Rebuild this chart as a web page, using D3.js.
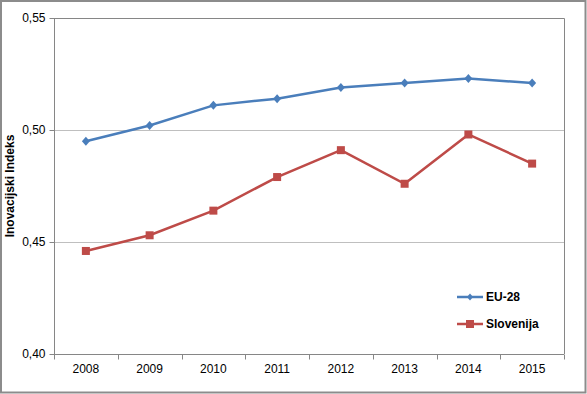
<!DOCTYPE html>
<html>
<head>
<meta charset="utf-8">
<script src="https://cdn.jsdelivr.net/npm/d3@7"></script>
<style>
  body { margin: 0; background: #fff; }
  svg { display: block; font-family: "Liberation Sans", Arial, sans-serif; }
</style>
</head>
<body>
<div id="chart"></div>
<script>

var years = ["2008", "2009", "2010", "2011", "2012", "2013", "2014", "2015"];
var euValues = [0.495, 0.502, 0.511, 0.514, 0.519, 0.521, 0.523, 0.521];
var sloValues = [0.446, 0.453, 0.464, 0.479, 0.491, 0.476, 0.498, 0.485];
var yTicks = [0.40, 0.45, 0.50, 0.55];
var seriesNames = ["EU-28", "Slovenija"];

var W = 587, H = 394;
var margin = { top: 18, right: 23, bottom: 40, left: 54 };
var width = W - margin.left - margin.right;
var height = H - margin.top - margin.bottom;

var svg = d3.select("#chart").append("svg")
    .attr("width", W)
    .attr("height", H);

// outer frame
svg.append("rect")
    .attr("x", 1).attr("y", 1)
    .attr("width", W - 2.5).attr("height", H - 2.5)
    .attr("fill", "#fff")
    .attr("stroke", "#8c8c8c")
    .attr("stroke-width", 2);

var g = svg.append("g").attr("transform", "translate(" + margin.left + "," + margin.top + ")");

var x = d3.scaleBand().domain(years).range([0, width]);
var y = d3.scaleLinear().domain([0.40, 0.55]).range([height, 0]);

// gridlines
g.selectAll(".grid")
    .data(yTicks.slice(1, 3))
    .enter().append("line")
    .attr("class", "grid")
    .attr("x1", 0).attr("x2", width)
    .attr("y1", function (d) { return Math.round(y(d)) + 0.5; })
    .attr("y2", function (d) { return Math.round(y(d)) + 0.5; })
    .attr("stroke", "#bfbfbf");

// plot border top and right
g.append("path")
    .attr("d", "M0,0.5H" + (width + 0.5) + "V" + height)
    .attr("fill", "none")
    .attr("stroke", "#868686");

// y axis
var yAxis = d3.axisLeft(y)
    .tickValues(yTicks)
    .tickSize(5)
    .tickPadding(4)
    .tickFormat(function (d) { return d3.format(".2f")(d).replace(".", ","); });

var ya = g.append("g").attr("class", "axis yAxis").attr("transform", "translate(0.5,0)").call(yAxis);
ya.select(".domain").attr("stroke", "#868686").attr("d", "M0," + height + "V0");
ya.selectAll(".tick line").attr("stroke", "#868686").attr("x2", -5);
ya.selectAll("text").attr("font-size", 12).attr("fill", "#000");

// x axis, ticks between categories
var xa = g.append("g").attr("class", "axis xAxis").attr("transform", "translate(0," + (height + 0.5) + ")");
xa.append("line")
    .attr("x1", 0).attr("x2", width)
    .attr("stroke", "#868686");
xa.selectAll(".sep")
    .data(years.concat(["end"]))
    .enter().append("line")
    .attr("class", "sep")
    .attr("x1", function (d, i) { return Math.round(i * x.bandwidth()) + 0.5; })
    .attr("x2", function (d, i) { return Math.round(i * x.bandwidth()) + 0.5; })
    .attr("y1", 0).attr("y2", 5)
    .attr("stroke", "#868686");
xa.selectAll(".lbl")
    .data(years)
    .enter().append("text")
    .attr("class", "lbl")
    .attr("x", function (d) { return x(d) + x.bandwidth() / 2; })
    .attr("y", 18)
    .attr("text-anchor", "middle")
    .attr("font-size", 12)
    .text(function (d) { return d; });

// axis title
svg.append("text")
    .attr("transform", "translate(14," + (margin.top + height / 2) + ") rotate(-90)")
    .attr("text-anchor", "middle")
    .attr("font-size", 12)
    .attr("font-weight", "bold")
    .text("Inovacijski Indeks");

var line = d3.line()
    .x(function (d, i) { return x(years[i]) + x.bandwidth() / 2; })
    .y(function (d) { return y(d); });

var colors = ["#4a7ebb", "#be4b48"];
var allSeries = [euValues, sloValues];

function drawMarker(sel, k, s) {
  if (k === 0) {
    sel.append("path")
        .attr("d", "M0," + (-s - 0.5) + "L" + s + ",0L0," + (s + 0.5) + "L" + (-s) + ",0Z")
        .attr("fill", colors[0]);
  } else {
    sel.append("rect")
        .attr("x", -s).attr("y", -s)
        .attr("width", 2 * s).attr("height", 2 * s)
        .attr("fill", colors[1]);
  }
}

allSeries.forEach(function (vals, k) {
  g.append("path")
      .datum(vals)
      .attr("class", "line")
      .attr("d", line)
      .attr("fill", "none")
      .attr("stroke", colors[k])
      .attr("stroke-width", 2.5);
  g.selectAll(".pt" + k)
      .data(vals)
      .enter().append("g")
      .attr("class", "pt" + k)
      .attr("transform", function (d, i) {
        return "translate(" + (x(years[i]) + x.bandwidth() / 2) + "," + y(d) + ")";
      })
      .each(function () { drawMarker(d3.select(this), k, 4); });
});

// legend
var legend = svg.append("g").attr("transform", "translate(457,297)");
seriesNames.forEach(function (name, k) {
  var row = legend.append("g").attr("transform", "translate(0," + (k * 27) + ")");
  row.append("line")
      .attr("x1", 0).attr("x2", 26)
      .attr("stroke", colors[k])
      .attr("stroke-width", 2.5);
  var m = row.append("g").attr("transform", "translate(13,0)");
  drawMarker(m, k, k === 0 ? 3 : 4);
  row.append("text")
      .attr("x", 29)
      .attr("dy", "0.35em")
      .attr("font-size", 12)
      .attr("font-weight", "bold")
      .text(name);
});

</script>
</body>
</html>
